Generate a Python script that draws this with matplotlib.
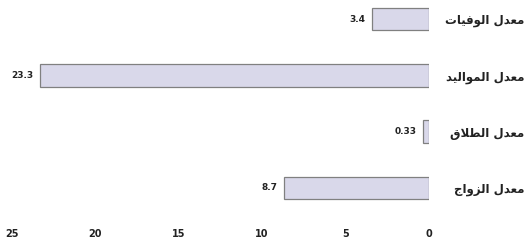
import numpy as np
import matplotlib
matplotlib.use("Agg")
import matplotlib.pyplot as plt

# === Data (bottom to top) ===
categories = ["معدل الزواج", "معدل الطلاق", "معدل المواليد", "معدل الوفيات"]
values = [8.7, 0.33, 23.3, 3.4]
value_labels = ["8.7", "0.33", "23.3", "3.4"]
x_ticks = [0, 5, 10, 15, 20, 25]

# === Minimal Arabic shaping (matplotlib has no shaping / bidi) ===
# letter: (isolated, final, initial, medial); None initial -> does not join to next
FORMS = {
    "ا": ("\uFE8D", "\uFE8E", None, None),
    "ت": ("\uFE95", "\uFE96", "\uFE97", "\uFE98"),
    "ج": ("\uFE9D", "\uFE9E", "\uFE9F", "\uFEA0"),
    "د": ("\uFEA9", "\uFEAA", None, None),
    "ز": ("\uFEAF", "\uFEB0", None, None),
    "ط": ("\uFEC1", "\uFEC2", "\uFEC3", "\uFEC4"),
    "ع": ("\uFEC9", "\uFECA", "\uFECB", "\uFECC"),
    "ف": ("\uFED1", "\uFED2", "\uFED3", "\uFED4"),
    "ق": ("\uFED5", "\uFED6", "\uFED7", "\uFED8"),
    "ل": ("\uFEDD", "\uFEDE", "\uFEDF", "\uFEE0"),
    "م": ("\uFEE1", "\uFEE2", "\uFEE3", "\uFEE4"),
    "و": ("\uFEED", "\uFEEE", None, None),
    "ي": ("\uFEF1", "\uFEF2", "\uFEF3", "\uFEF4"),
}
LAM_ALEF = ("\uFEFB", "\uFEFC")


def joins_next(ch):
    return ch in FORMS and FORMS[ch][2] is not None


def shape(text):
    out = []
    chars = list(text)
    i = 0
    while i < len(chars):
        ch = chars[i]
        prev = chars[i - 1] if i > 0 else None
        linked_prev = prev is not None and joins_next(prev)
        if ch == "ل" and i + 1 < len(chars) and chars[i + 1] == "ا":
            out.append(LAM_ALEF[1] if linked_prev else LAM_ALEF[0])
            i += 2
            continue
        if ch not in FORMS:
            out.append(ch)
            i += 1
            continue
        iso, fin, ini, med = FORMS[ch]
        nxt = chars[i + 1] if i + 1 < len(chars) else None
        linked_next = nxt in FORMS and ini is not None
        if linked_prev and linked_next:
            out.append(med)
        elif linked_prev:
            out.append(fin)
        elif linked_next:
            out.append(ini)
        else:
            out.append(iso)
        i += 1
    return "".join(out)[::-1]


fig = plt.figure(figsize=(5.30, 2.41), dpi=100)
ax = fig.add_axes([0.0226, 0.115, 0.809 - 0.0226, 0.876])

y = np.arange(len(categories))
ax.barh(y, values, height=0.4, color="#d9d8ea", edgecolor="#808080", linewidth=0.9)

for yi, v, lab in zip(y, values, value_labels):
    ax.text(v + 0.4, yi, lab, ha="right", va="center", fontsize=6.5,
            fontweight="bold", color="#222222")

ax.set_xlim(25, 0)
ax.set_ylim(-0.45, 3.3)
ax.set_xticks(x_ticks)
ax.set_xticklabels([str(t) for t in x_ticks], fontsize=7, fontweight="bold", color="#222222")
ax.tick_params(axis="x", length=0, pad=11)

ax.yaxis.tick_right()
ax.set_yticks(y)
ax.set_yticklabels([shape(c) for c in categories], fontsize=8.5, fontweight="bold",
                   color="#222222", ha="right")
ax.tick_params(axis="y", length=0, pad=69)

for s in ax.spines.values():
    s.set_visible(False)

fig.savefig("out.png", dpi=100)
